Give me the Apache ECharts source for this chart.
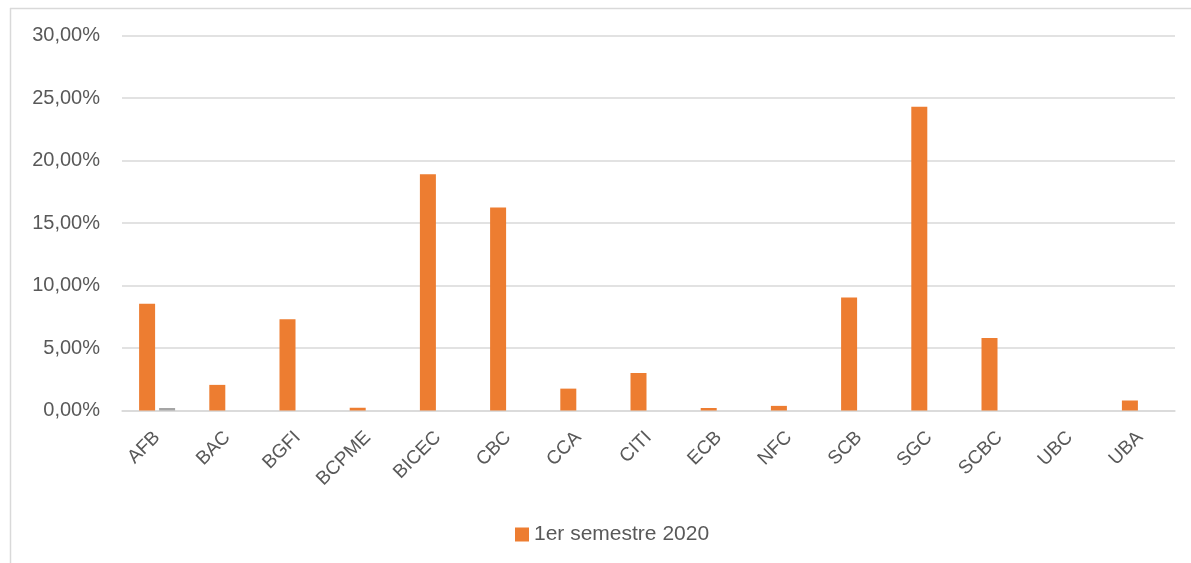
<!DOCTYPE html>
<html>
<head>
<meta charset="utf-8">
<script src="https://cdn.jsdelivr.net/npm/echarts@6/dist/echarts.min.js"></script>
<style>html,body{margin:0;padding:0;background:#fff}#c{width:1191px;height:563px}</style>
</head>
<body>
<div id="c"></div>
<script>
var categories = ['AFB','BAC','BGFI','BCPME','BICEC','CBC','CCA','CITI','ECB','NFC','SCB','SGC','SCBC','UBC','UBA'];
var semestre2020 = [8.55, 2.05, 7.3, 0.22, 18.9, 16.25, 1.75, 3.0, 0.2, 0.37, 9.05, 24.3, 5.8, 0, 0.8];
var serie2 = [0.2, null, null, null, null, null, null, null, null, null, null, null, null, null, null];
var yTicks = {min: 0, max: 30, interval: 5};

var font = '"Liberation Sans", Arial, sans-serif';
var chart = echarts.init(document.getElementById('c'));
chart.setOption({
  animation: false,
  backgroundColor: '#fff',
  graphic: [
    {type: 'line', shape: {x1: 10.5, y1: 8, x2: 10.5, y2: 563}, style: {stroke: '#d9d9d9', lineWidth: 1.5}},
    {type: 'line', shape: {x1: 10, y1: 8.5, x2: 1191, y2: 8.5}, style: {stroke: '#d9d9d9', lineWidth: 1.5}}
  ],
  grid: {left: 122, right: 16, top: 35.5, bottom: 152.5, containLabel: false},
  legend: {
    data: ['1er semestre 2020'],
    left: 510, top: 519,
    icon: 'rect', itemWidth: 14, itemHeight: 14, itemGap: 10,
    textStyle: {fontFamily: font, fontSize: 21, color: '#595959'}
  },
  xAxis: {
    type: 'category',
    data: categories,
    axisLine: {lineStyle: {color: '#d9d9d9', width: 1.5}},
    axisTick: {show: false},
    axisLabel: {rotate: 45, interval: 0, margin: 24, fontFamily: font, fontSize: 19, color: '#595959'}
  },
  yAxis: {
    type: 'value',
    min: yTicks.min, max: yTicks.max, interval: yTicks.interval,
    axisLine: {show: false},
    axisTick: {show: false},
    splitLine: {lineStyle: {color: '#d9d9d9', width: 1.5}},
    axisLabel: {
      margin: 22, fontFamily: font, fontSize: 20, color: '#595959',
      formatter: function (v) { return v.toFixed(2).replace('.', ',') + '%'; }
    }
  },
  series: [
    {name: '1er semestre 2020', type: 'bar', data: semestre2020, barWidth: 16, barGap: '25%',
     itemStyle: {color: '#ed7d31'}},
    {name: 'autre', type: 'bar', data: serie2, barWidth: 16, barGap: '25%',
     itemStyle: {color: '#a5a5a5'}}
  ]
});
</script>
</body>
</html>
